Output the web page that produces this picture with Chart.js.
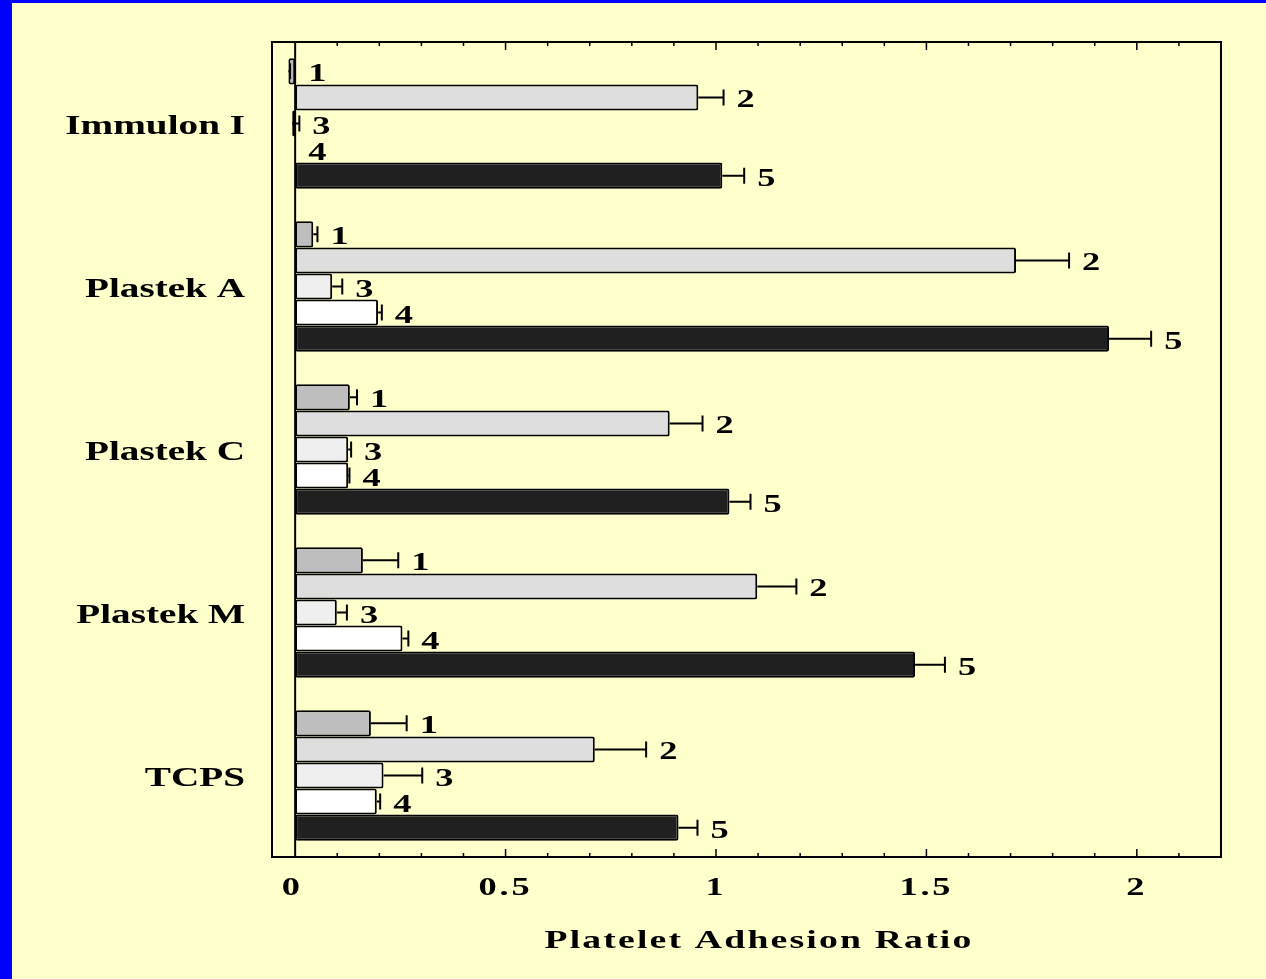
<!DOCTYPE html>
<html>
<head>
<meta charset="utf-8">
<title>Platelet Adhesion Ratio</title>
<script src="https://cdn.jsdelivr.net/npm/chart.js@4.4.1/dist/chart.umd.min.js"></script>
<style>
  html, body { margin: 0; padding: 0; overflow: hidden; background: #0000ff; }
  canvas { display: block; }
</style>
</head>
<body>
<canvas id="chart" width="1266" height="979"></canvas>
<script>
// surfaces and sample labels
const categories = ['Immulon I', 'Plastek A', 'Plastek C', 'Plastek M', 'TCPS'];
const seriesNames = ['1', '2', '3', '4', '5'];

// mean ratio per surface, one array per sample
const series1 = [-0.016, 0.043, 0.130, 0.161, 0.180];
const series2 = [0.958, 1.713, 0.890, 1.098, 0.712];
const series3 = [-0.007, 0.088, 0.126, 0.099, 0.210];
const series4 = [0.000, 0.197, 0.126, 0.255, 0.194];
const series5 = [1.015, 1.934, 1.032, 1.473, 0.911];

// error (one-sided, drawn to the right)
const errors1 = [0.004, 0.010, 0.017, 0.084, 0.085];
const errors2 = [0.060, 0.126, 0.078, 0.093, 0.122];
const errors3 = [0.017, 0.024, 0.007, 0.024, 0.092];
const errors4 = [0.000, 0.009, 0.003, 0.014, 0.008];
const errors5 = [0.052, 0.100, 0.050, 0.071, 0.045];

const xTickLabels = [0, 0.5, 1, 1.5, 2];

const allSeries = [series1, series2, series3, series4, series5];
const allErrors = [errors1, errors2, errors3, errors4, errors5];
const fills = ['#bebebe', '#dedede', '#efefef', '#ffffff', '#202020'];

const SERIF = '"Liberation Serif", "Times New Roman", serif';

// wide bold serif text, stretched horizontally
function wideText(ctx, text, x, y, size, align, sx, spacing) {
    ctx.save();
    ctx.font = 'bold ' + size + 'px ' + SERIF;
    ctx.letterSpacing = (spacing || 0) + 'px';
    ctx.fillStyle = '#000';
    ctx.textBaseline = 'alphabetic';
    const w = ctx.measureText(text).width * sx;
    let left = x;
    if (align === 'right') left = x - w;
    if (align === 'center') left = x - w / 2;
    ctx.translate(left, y);
    ctx.scale(sx, 1);
    ctx.textAlign = 'left';
    ctx.fillText(text, 0, 0);
    ctx.restore();
}

const backdrop = {
    id: 'backdrop',
    beforeDraw(chart) {
        const ctx = chart.ctx;
        ctx.save();
        ctx.fillStyle = '#0000ff';
        ctx.fillRect(0, 0, chart.width, chart.height);
        ctx.fillStyle = '#ffffcc';
        ctx.fillRect(12, 3, chart.width - 12, chart.height - 3);
        ctx.restore();
    }
};

const decorations = {
    id: 'decorations',
    afterDatasetsDraw(chart) {
        const ctx = chart.ctx;
        const area = chart.chartArea;
        const xs = chart.scales.x;

        ctx.save();
        ctx.strokeStyle = '#000';

        // frame
        ctx.lineWidth = 2;
        ctx.strokeRect(area.left, area.top, area.right - area.left, area.bottom - area.top);

        // zero line
        const x0 = xs.getPixelForValue(0);
        ctx.beginPath();
        ctx.moveTo(x0, area.top);
        ctx.lineTo(x0, area.bottom);
        ctx.stroke();

        // inward tick marks, top and bottom
        ctx.lineWidth = 1.5;
        for (let i = 1; i <= 21; i++) {
            const px = xs.getPixelForValue(i / 10);
            const len = (i % 5 === 0) ? 8 : 4;
            ctx.beginPath();
            ctx.moveTo(px, area.bottom);
            ctx.lineTo(px, area.bottom - len);
            ctx.moveTo(px, area.top);
            ctx.lineTo(px, area.top + len);
            ctx.stroke();
        }

        // error bars and sample numbers
        ctx.lineWidth = 2;
        allSeries.forEach((vals, s) => {
            const meta = chart.getDatasetMeta(s);
            meta.data.forEach((bar, i) => {
                const v = vals[i];
                const e = allErrors[s][i];
                const xv = xs.getPixelForValue(v);
                const xe = xs.getPixelForValue(v + e);
                const y = bar.y;
                if (e > 0) {
                    ctx.beginPath();
                    ctx.moveTo(xv, y);
                    ctx.lineTo(xe, y);
                    ctx.moveTo(xe, y - 8);
                    ctx.lineTo(xe, y + 8);
                    ctx.stroke();
                }
                const lx = Math.max(xv, xe, x0) + 13;
                wideText(ctx, seriesNames[s], lx, y + 10, 26, 'left', 1.4, 0);
            });
        });
        ctx.restore();
    },
    afterDraw(chart) {
        const ctx = chart.ctx;
        const area = chart.chartArea;
        const xs = chart.scales.x;
        const ys = chart.scales.y;

        // category labels
        categories.forEach((c, i) => {
            wideText(ctx, c, 245, ys.getPixelForValue(i) + 10, 28, 'right', 1.4, 0);
        });

        // x tick labels
        xTickLabels.forEach(v => {
            wideText(ctx, String(v), xs.getPixelForValue(v) - (v === 0 ? 3 : 0), area.bottom + 38, 26, 'center', 1.4, 2);
        });

        // axis title
        wideText(ctx, 'Platelet Adhesion Ratio', 759, 948, 26, 'center', 1.45, 1.5);
    }
};

new Chart(document.getElementById('chart'), {
    type: 'bar',
    data: {
        labels: categories,
        datasets: allSeries.map((vals, s) => ({
            label: seriesNames[s],
            data: vals,
            backgroundColor: fills[s],
            borderColor: '#000',
            borderWidth: 2,
            borderSkipped: false,
            borderRadius: 2,
            categoryPercentage: 0.8,
            barPercentage: 1.0
        }))
    },
    options: {
        indexAxis: 'y',
        responsive: false,
        animation: false,
        layout: { padding: { left: 272, top: 42, right: 45, bottom: 122 } },
        plugins: {
            legend: { display: false },
            tooltip: { enabled: false }
        },
        scales: {
            x: { display: false, min: -0.055, max: 2.2 },
            y: { display: false, offset: true }
        }
    },
    plugins: [backdrop, decorations]
});
</script>
</body>
</html>
